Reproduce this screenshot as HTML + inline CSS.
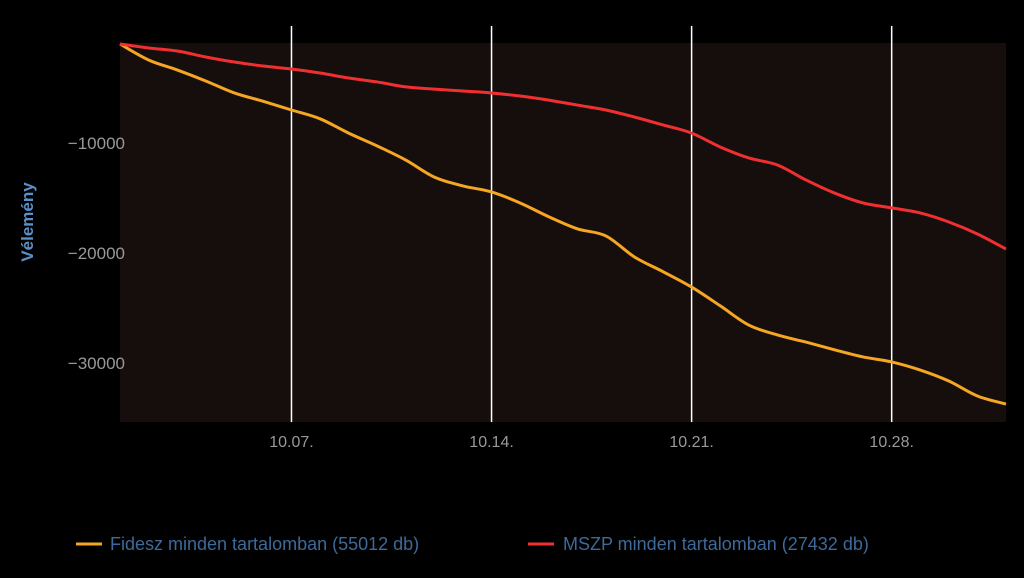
<!DOCTYPE html>
<html><head><meta charset="utf-8"><style>
html,body{margin:0;padding:0;background:#000;}
svg{display:block;font-family:"Liberation Sans","DejaVu Sans",sans-serif;}
</style></head><body>
<svg id="chart" width="1024" height="578" xmlns="http://www.w3.org/2000/svg">
<rect x="120" y="43" width="886" height="379" fill="#160d0d"/>
<g id="grid"></g><g id="yt"></g><g id="xt"></g><g id="series"></g>
<text transform="translate(33,222) rotate(-90)" text-anchor="middle" fill="#5b8fc9" font-size="17" font-weight="bold">Vélemény</text>
<g>
<g><line x1="76" y1="544" x2="102" y2="544" stroke="#f5a623" stroke-width="3"/><text x="110" y="550" fill="#3d6a9a" font-size="18">Fidesz minden tartalomban (55012 db)</text></g>
<g><line x1="528" y1="544" x2="554" y2="544" stroke="#f03030" stroke-width="3"/><text x="563" y="550" fill="#3d6a9a" font-size="18">MSZP minden tartalomban (27432 db)</text></g>
</g>
</svg>
<script>
const days=[0,1,2,3,4,5,6,7,8,9,10,11,12,13,14,15,16,17,18,19,20,21,22,23,24,25,26,27,28,29,30,31];
const fidesz=[-1000,-2450,-3360,-4360,-5450,-6200,-7000,-7800,-9100,-10270,-11550,-13100,-13900,-14450,-15450,-16700,-17800,-18450,-20360,-21700,-23100,-24800,-26550,-27450,-28100,-28800,-29450,-29900,-30640,-31640,-33000,-33730];
const mszp=[-1000,-1360,-1640,-2180,-2640,-3000,-3270,-3640,-4090,-4450,-4900,-5100,-5270,-5450,-5730,-6100,-6550,-7000,-7640,-8360,-9100,-10360,-11360,-12000,-13360,-14550,-15450,-15900,-16360,-17180,-18270,-19640];
const yTicks=[-10000,-20000,-30000];
const yTickLabels=["−10000","−20000","−30000"];
const xTicks=[6,13,20,27];
const xTickLabels=["10.07.","10.14.","10.21.","10.28."];
const NS="http://www.w3.org/2000/svg";
const X=d=>120+d*(886/31);
const Y=v=>33-v*0.011;
function mk(t,a,p){const e=document.createElementNS(NS,t);for(const k in a)e.setAttribute(k,a[k]);p.appendChild(e);return e;}
const grid=document.getElementById('grid'),yt=document.getElementById('yt'),xt=document.getElementById('xt'),sr=document.getElementById('series');
xTicks.forEach((d,i)=>{
 const l=mk('line',{x1:X(d),x2:X(d),y1:26,y2:422,stroke:'#fff','stroke-width':1.5},grid);
 
 
 const t=mk('text',{x:X(d),y:447,'text-anchor':'middle',fill:'#999','font-size':16},xt);t.textContent=xTickLabels[i];
 
 
});
yTicks.forEach((v,i)=>{
 const t=mk('text',{x:125,y:Y(v)+6,'text-anchor':'end',fill:'#999','font-size':17},yt);t.textContent=yTickLabels[i];
 
 
});
function path(vals,color,name){
 const pts=vals.map((v,i)=>[X(days[i]),Y(v)]);
 let d='M'+pts[0][0]+','+pts[0][1];
 for(let i=0;i<pts.length-1;i++){
  const p0=pts[Math.max(0,i-1)],p1=pts[i],p2=pts[i+1],p3=pts[Math.min(pts.length-1,i+2)];
  const c1=[p1[0]+(p2[0]-p0[0])/6,p1[1]+(p2[1]-p0[1])/6],c2=[p2[0]-(p3[0]-p1[0])/6,p2[1]-(p3[1]-p1[1])/6];
  d+=' C'+c1+' '+c2+' '+p2;
 }
 const e=mk('path',{d:d,fill:'none',stroke:color,'stroke-width':3},sr);
 
 
}
path(fidesz,'#f5a623','fidesz-line');
path(mszp,'#f03030','mszp-line');
</script>
</body></html>
